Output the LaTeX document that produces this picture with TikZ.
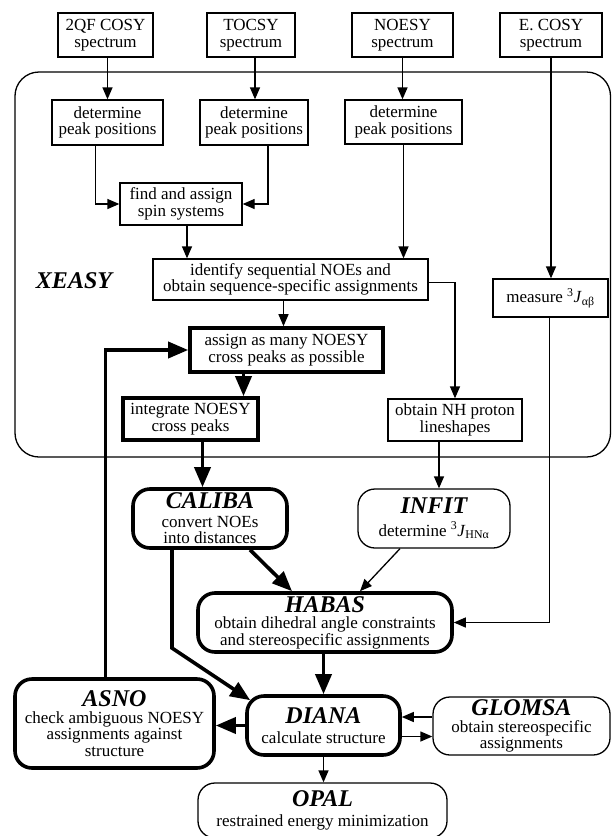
\documentclass[tikz,border=0pt]{standalone}
\usepackage{fontspec}
\setmainfont{Liberation Serif}
\usetikzlibrary{arrows.meta,calc}
\newcommand{\bodyfont}{\fontsize{17}{16.5}\selectfont}
\newcommand{\nm}[1]{{\fontsize{24}{24}\selectfont\bfseries\itshape #1}}
\begin{document}
\begin{tikzpicture}[x=1pt,y=-1pt,
  box/.style={draw, line width=1.3pt, inner sep=0pt, align=center, font=\bodyfont},
  tbox/.style={box, line width=3.6pt},
  rbox/.style={box, rounded corners=17pt},
  trbox/.style={rbox, line width=3.6pt},
  ln/.style={line width=1.3pt},
  arr/.style={line width=1.3pt, -{Triangle[length=12pt,width=10pt]}},
  tarr/.style={line width=3.6pt, -{Triangle[length=20pt,width=16pt]}}]
\useasboundingbox (0,0) rectangle (612,836);
% XEASY frame
\draw[ln, rounded corners=24pt] (15,72) rectangle (610.5,457);
\node[font=\fontsize{24}{24}\selectfont\bfseries\itshape] (xeasy) at (74,281) {XEASY};
% top spectra
\node[box, minimum width=95, minimum height=44] (cosy2) at (105.5,35) {2QF COSY\\spectrum};
\node[box, minimum width=88, minimum height=44] (tocsy) at (251,35) {TOCSY\\spectrum};
\node[box, minimum width=101, minimum height=44] (noesy) at (402.5,35) {NOESY\\spectrum};
\node[box, minimum width=102, minimum height=44] (ecosy) at (551,35) {E. COSY\\spectrum};
% inside XEASY
\node[box, minimum width=111, minimum height=45] (det1) at (107.5,122.5) {determine\\peak positions};
\node[box, minimum width=108, minimum height=45] (det2) at (254,122.5) {determine\\peak positions};
\node[box, minimum width=117, minimum height=44] (det3) at (403.5,122) {determine\\peak positions};
\node[box, minimum width=122, minimum height=42] (find) at (181,204) {find and assign\\spin systems};
\node[box, minimum width=275, minimum height=41] (ident) at (290.5,279.5) {identify sequential NOEs and\\obtain sequence-specific assignments};
\node[box, minimum width=115, minimum height=38] (meas) at (550.5,298) {measure \textsuperscript{3}\textit{J}\textsubscript{αβ}};
\node[tbox, minimum width=193, minimum height=44] (assign) at (286.5,350) {assign as many NOESY\\cross peaks as possible};
\node[tbox, minimum width=135, minimum height=42] (integ) at (190.5,419) {integrate NOESY\\cross peaks};
\node[box, minimum width=134, minimum height=42] (nh) at (455,420) {obtain NH proton\\lineshapes};
% programs
\node[trbox, minimum width=154, minimum height=59] (caliba) at (210,518.5) {\nm{CALIBA}\\[2pt]convert NOEs\\into distances};
\node[rbox, minimum width=152, minimum height=59] (infit) at (434,518.5) {\nm{INFIT}\\[6pt]determine \textsuperscript{3}\textit{J}\textsubscript{HNα}};
\node[trbox, minimum width=254, minimum height=59] (habas) at (325,622.5) {\nm{HABAS}\\[0pt]obtain dihedral angle constraints\\and stereospecific assignments};
\node[trbox, minimum width=153, minimum height=59] (diana) at (323.5,725.5) {\nm{DIANA}\\[4pt]calculate structure};
\node[trbox, minimum width=199, minimum height=89] (asno) at (114.5,723.5) {\nm{ASNO}\\check ambiguous NOESY\\assignments against\\structure};
\node[rbox, minimum width=177, minimum height=58] (glomsa) at (521.5,726) {\nm{GLOMSA}\\[0pt]obtain stereospecific\\assignments};
\node[rbox, minimum width=249, minimum height=55] (opal) at (322.5,810.5) {\nm{OPAL}\\[4pt]restrained energy minimization};
% connectors
\draw[arr] ([xshift=2]cosy2.south) -- ([xshift=2]cosy2.south |- det1.north);
\draw[arr] ([xshift=4]tocsy.south) -- ([xshift=4]tocsy.south |- det2.north);
\draw[arr] (noesy.south) -- (noesy.south |- det3.north);
\draw[arr] (ecosy.south) -- (ecosy.south |- meas.north);
\draw[arr] ([xshift=-12]det1.south) |- (find.west);
\draw[arr] ([xshift=14]det2.south) |- (find.east);
\draw[arr] ([xshift=6]find.south) -- ([xshift=6]find.south |- ident.north);
\draw[arr] (det3.south) -- (det3.south |- ident.north);
\draw[arr] ([xshift=-7]ident.south) -- ([xshift=-7]ident.south |- assign.north);
\draw[tarr] ([xshift=-43]assign.south) -- ([xshift=-43]assign.south |- integ.north);
\draw[arr] ([yshift=-3]ident.east) -| (nh.north);
\draw[tarr] ([xshift=12]integ.south) -- ([xshift=12]integ.south |- caliba.north);
\draw[arr] ([xshift=-16]nh.south) -- ([xshift=-16]nh.south |- infit.north);
\draw[tarr] ([xshift=40]caliba.south) -- ([xshift=-33]habas.north);
\draw[arr] ([xshift=-34]infit.south) -- ([xshift=35]habas.north);
\draw[arr] ([xshift=-1]meas.south) |- (habas.east);
\draw[tarr] (habas.south -| diana.north) -- (diana.north);
\coordinate (bend) at (172,648);
\draw[tarr] ([xshift=-38]caliba.south) -- (bend) -- ([shift={(5,6)}]diana.north west);
\draw[tarr] (diana.west) -- (diana.west -| asno.east);
\draw[tarr] ([xshift=-9]asno.north) |- (assign.west);
\draw[arr] ([yshift=9]glomsa.west) -- ([yshift=9]glomsa.west -| diana.east);
\draw[arr] ([yshift=-11]diana.east) -- ([yshift=-11]diana.east -| glomsa.west);
\draw[arr] (diana.south) -- (diana.south |- opal.north);
\end{tikzpicture}
\end{document}
